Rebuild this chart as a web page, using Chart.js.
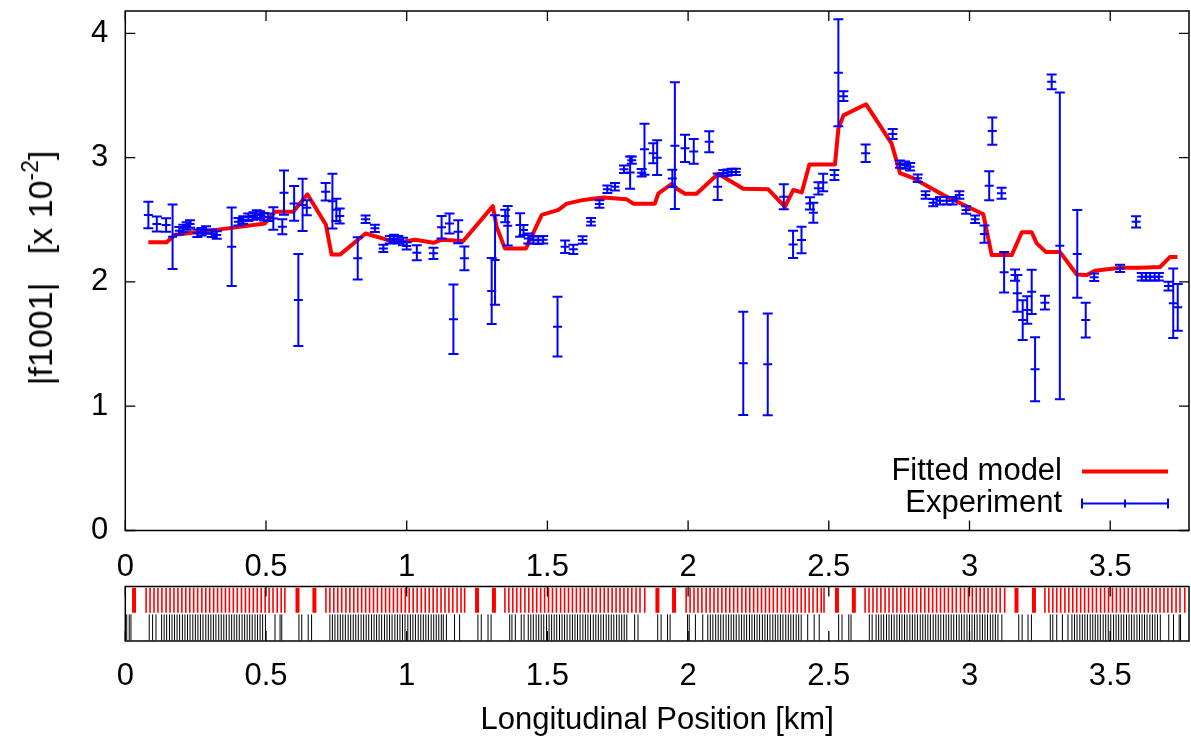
<!DOCTYPE html>
<html><head><meta charset="utf-8">
<script src="https://cdn.jsdelivr.net/npm/chart.js@4.4.1/dist/chart.umd.min.js"></script>
<style>
html,body{margin:0;padding:0;background:#fff;}
body{width:1191px;height:736px;position:relative;overflow:hidden;font-family:"Liberation Sans",Arial,sans-serif;}
#c1{position:absolute;left:0;top:0;}
#c2{position:absolute;left:0;top:580px;}
#ylab{position:absolute;left:40px;top:268px;transform:translate(-50%,-50%) rotate(-90deg);font-size:34px;white-space:pre;color:#000;line-height:1;}
#ylab sup{font-size:23px;line-height:0;position:relative;top:-2px;}
</style></head>
<body>
<canvas id="c1" width="1191" height="580"></canvas>
<canvas id="c2" width="1191" height="156"></canvas>
<div id="ylab">|f1001|   [x 10<sup>-2</sup>]</div>
<script>
// ---------- data ----------
const xTicks = [0, 0.5, 1, 1.5, 2, 2.5, 3, 3.5];
const yTicks = [0, 1, 2, 3, 4];

const modelX = [0.082,0.147,0.177,0.337,0.496,0.532,0.597,0.647,0.713,0.733,0.763,0.854,0.929,0.976,1.030,1.095,1.124,1.201,1.306,1.320,1.349,1.424,1.480,1.539,1.569,1.628,1.699,1.782,1.805,1.882,1.894,1.942,1.960,1.989,2.030,2.107,2.196,2.285,2.344,2.374,2.404,2.431,2.522,2.534,2.552,2.632,2.723,2.753,2.800,2.907,3.049,3.079,3.150,3.186,3.221,3.239,3.272,3.322,3.381,3.416,3.446,3.535,3.606,3.677,3.712,3.739];
const modelY = [2.32,2.32,2.38,2.423,2.47,2.565,2.565,2.705,2.46,2.22,2.22,2.39,2.34,2.32,2.34,2.315,2.34,2.33,2.61,2.44,2.27,2.27,2.54,2.58,2.63,2.66,2.68,2.665,2.63,2.63,2.71,2.79,2.75,2.71,2.71,2.87,2.75,2.745,2.605,2.74,2.72,2.945,2.945,3.235,3.34,3.43,3.115,2.875,2.835,2.70,2.545,2.216,2.216,2.40,2.40,2.31,2.24,2.24,2.06,2.055,2.09,2.115,2.115,2.12,2.20,2.20];

const expX = [0.082,0.112,0.145,0.168,0.192,0.206,0.218,0.230,0.256,0.271,0.287,0.307,0.325,0.378,0.402,0.419,0.437,0.455,0.467,0.479,0.493,0.508,0.526,0.558,0.564,0.600,0.615,0.630,0.645,0.712,0.736,0.750,0.762,0.826,0.854,0.887,0.917,0.940,0.955,0.970,0.987,1.000,1.036,1.095,1.124,1.152,1.166,1.183,1.205,1.302,1.314,1.350,1.359,1.403,1.415,1.432,1.450,1.467,1.485,1.536,1.563,1.592,1.625,1.655,1.685,1.713,1.740,1.772,1.794,1.800,1.835,1.845,1.876,1.890,1.944,1.953,1.989,2.020,2.075,2.105,2.125,2.140,2.155,2.170,2.196,2.283,2.340,2.373,2.403,2.433,2.445,2.463,2.480,2.520,2.534,2.552,2.631,2.727,2.753,2.771,2.789,2.816,2.844,2.871,2.895,2.919,2.940,2.964,2.988,3.020,3.053,3.070,3.081,3.114,3.123,3.162,3.170,3.189,3.205,3.221,3.233,3.268,3.292,3.321,3.383,3.413,3.443,3.535,3.592,3.612,3.627,3.642,3.658,3.673,3.707,3.724,3.740];
const expY = [2.538,2.466,2.458,2.364,2.412,2.431,2.45,2.466,2.391,2.404,2.418,2.391,2.377,2.283,2.484,2.498,2.52,2.53,2.546,2.538,2.525,2.52,2.51,2.444,2.718,2.632,1.854,2.62,2.597,2.726,2.65,2.58,2.53,2.19,2.504,2.431,2.27,2.34,2.35,2.34,2.325,2.29,2.235,2.23,2.44,2.47,1.70,2.404,2.19,1.927,2.176,2.53,2.452,2.458,2.418,2.35,2.34,2.335,2.34,1.64,2.283,2.262,2.337,2.484,2.627,2.745,2.766,2.906,2.88,2.98,2.878,3.067,3.035,3.0,2.833,3.096,3.075,3.05,3.128,2.766,2.875,2.88,2.885,2.885,1.345,1.337,2.685,2.302,2.337,2.632,2.557,2.753,2.8,2.86,3.683,3.495,3.035,3.19,2.948,2.94,2.927,2.834,2.70,2.638,2.654,2.654,2.654,2.70,2.579,2.504,2.385,2.774,3.214,2.713,2.077,2.055,1.908,1.693,1.774,1.921,1.297,1.833,3.61,2.291,2.225,1.693,2.037,2.109,2.484,2.042,2.042,2.042,2.042,2.042,1.967,1.828,1.796];
const expErr = [0.107,0.06,0.055,0.26,0.03,0.03,0.03,0.03,0.03,0.03,0.03,0.03,0.03,0.315,0.03,0.03,0.03,0.03,0.03,0.03,0.03,0.03,0.09,0.06,0.178,0.14,0.37,0.21,0.06,0.07,0.22,0.09,0.06,0.17,0.03,0.03,0.03,0.03,0.03,0.03,0.03,0.03,0.06,0.045,0.09,0.08,0.28,0.093,0.095,0.265,0.36,0.05,0.158,0.095,0.04,0.04,0.03,0.03,0.03,0.24,0.05,0.038,0.03,0.03,0.03,0.03,0.03,0.03,0.13,0.03,0.03,0.205,0.08,0.14,0.07,0.51,0.11,0.1,0.085,0.107,0.025,0.025,0.025,0.025,0.416,0.41,0.1,0.11,0.107,0.05,0.08,0.05,0.07,0.04,0.43,0.04,0.07,0.04,0.03,0.03,0.03,0.03,0.03,0.03,0.03,0.03,0.03,0.03,0.03,0.03,0.07,0.117,0.11,0.044,0.163,0.045,0.148,0.16,0.11,0.178,0.258,0.055,0.06,1.234,0.353,0.14,0.03,0.03,0.045,0.03,0.03,0.03,0.03,0.03,0.035,0.28,0.188];

// lattice strip: element positions [km]
const redThin = [0.074,0.088,0.102,0.116,0.130,0.145,0.159,0.173,0.187,0.201,0.215,0.229,0.243,0.257,0.272,0.286,0.300,0.314,0.328,0.342,0.356,0.370,0.384,0.398,0.413,0.427,0.441,0.455,0.469,0.483,0.497,0.511,0.525,0.540,0.554,0.567,
0.713,0.727,0.741,0.755,0.769,0.784,0.798,0.812,0.826,0.840,0.854,0.868,0.882,0.896,0.911,0.925,0.939,0.953,0.967,0.981,0.995,1.009,1.023,1.037,1.052,1.066,1.080,1.094,1.108,1.122,1.136,1.150,1.164,1.179,1.193,1.206,
1.349,1.363,1.377,1.391,1.405,1.420,1.434,1.448,1.462,1.476,1.490,1.504,1.518,1.532,1.547,1.561,1.575,1.589,1.603,1.617,1.631,1.645,1.659,1.673,1.688,1.702,1.716,1.730,1.744,1.758,1.772,1.786,1.800,1.815,1.829,1.846,
1.993,2.007,2.021,2.035,2.049,2.064,2.078,2.092,2.106,2.120,2.134,2.148,2.162,2.176,2.191,2.205,2.219,2.233,2.247,2.261,2.275,2.289,2.303,2.317,2.332,2.346,2.360,2.374,2.388,2.402,2.416,2.430,2.444,2.459,2.473,2.483,
2.629,2.643,2.657,2.671,2.685,2.700,2.714,2.728,2.742,2.756,2.770,2.784,2.798,2.812,2.827,2.841,2.855,2.869,2.883,2.897,2.911,2.925,2.939,2.953,2.968,2.982,2.996,3.010,3.024,3.038,3.052,3.066,3.080,3.095,3.109,3.125,
3.268,3.282,3.296,3.310,3.324,3.339,3.353,3.367,3.381,3.395,3.409,3.423,3.437,3.451,3.466,3.480,3.494,3.508,3.522,3.536,3.550,3.564,3.578,3.592,3.607,3.621,3.635,3.649,3.663,3.677,3.691,3.705,3.719,3.734,3.748,3.765];
const redThick = [0.031,0.612,0.672,1.250,1.310,1.891,1.950,2.529,2.589,3.167,3.229];
const blackPos = [0.005,0.014,0.020,0.085,0.097,0.109,
0.129,0.138,0.147,0.157,0.166,0.175,0.184,0.193,0.203,0.212,0.221,0.230,0.240,0.249,0.258,0.267,0.276,0.286,0.295,0.304,0.313,0.322,0.332,0.341,0.350,0.359,0.369,0.378,0.387,0.396,0.405,0.415,0.424,0.433,0.442,0.451,0.461,0.470,0.479,0.488,0.498,
0.532,0.550,0.556,0.617,0.627,0.650,0.662,
0.727,0.736,0.745,0.755,0.764,0.773,0.782,0.792,0.801,0.810,0.819,0.828,0.838,0.847,0.856,0.865,0.875,0.884,0.893,0.902,0.911,0.921,0.930,0.939,0.948,0.958,0.967,0.976,0.985,0.994,1.004,1.013,1.022,1.031,1.041,1.050,1.059,1.068,1.077,1.087,1.096,1.105,1.114,1.123,
1.130,1.141,1.170,1.188,1.253,1.265,1.289,1.300,1.366,1.374,1.386,1.407,1.417,
1.432,1.441,1.450,1.460,1.469,1.478,1.487,1.497,1.506,1.515,1.524,1.533,1.543,1.552,1.561,1.570,1.580,1.589,1.598,1.607,1.616,1.626,1.635,1.644,1.653,1.663,1.672,1.681,1.690,1.699,1.709,1.718,1.727,1.736,1.746,1.755,1.764,1.773,1.782,
1.810,1.822,1.892,1.904,1.927,1.936,1.998,2.004,2.026,2.052,
2.070,2.079,2.088,2.098,2.107,2.116,2.125,2.135,2.144,2.153,2.162,2.171,2.181,2.190,2.199,2.208,2.218,2.227,2.236,2.245,2.254,2.264,2.273,2.282,2.291,2.301,2.310,2.319,2.328,2.337,2.347,2.356,2.365,2.374,2.384,2.393,2.402,
2.425,2.448,2.466,2.535,2.547,2.571,2.579,2.644,2.654,2.668,
2.677,2.686,2.695,2.705,2.714,2.723,2.732,2.742,2.751,2.760,2.769,2.778,2.788,2.797,2.806,2.815,2.825,2.834,2.843,2.852,2.861,2.871,2.880,2.889,2.898,2.908,2.917,2.926,2.935,2.944,2.954,2.963,2.972,2.981,2.991,3.000,3.009,3.018,3.027,3.037,3.046,3.055,3.064,3.074,3.083,3.092,3.101,3.115,
3.175,3.187,3.208,3.220,3.287,3.296,3.310,3.330,3.350,
3.364,3.373,3.382,3.392,3.401,3.410,3.419,3.429,3.438,3.447,3.456,3.465,3.475,3.484,3.493,3.502,3.512,3.521,3.530,3.539,3.548,3.558,3.567,3.576,3.585,3.595,3.604,3.613,3.622,3.631,3.641,3.650,3.659,3.668,3.678,
3.708,3.725,3.745,3.750];

const xTitle = 'Longitudinal Position [km]';
const legendModel = 'Fitted model';
const legendExp = 'Experiment';

// ---------- chart ----------
const FONT = "'Liberation Sans', Arial, Helvetica, sans-serif";
Chart.defaults.font.family = FONT;
Chart.defaults.color = '#000';
const RED = '#ff0000', BLUE = '#0000ff';
const fmt = v => String(+(+v).toFixed(2));

const framePlugin = {
  id: 'frame',
  afterDraw(chart, args, opts) {
    const {ctx, chartArea: a, scales} = chart;
    const L = 10;
    ctx.save();
    ctx.strokeStyle = '#000';
    ctx.lineWidth = 1.5;
    ctx.strokeRect(a.left, a.top, a.right - a.left, a.bottom - a.top);
    ctx.lineWidth = 1.3;
    ctx.beginPath();
    scales.x.ticks.forEach(t => {
      const p = scales.x.getPixelForValue(t.value);
      ctx.moveTo(p, a.bottom); ctx.lineTo(p, a.bottom - L);
      ctx.moveTo(p, a.top); ctx.lineTo(p, a.top + L);
    });
    if (opts.yTicks) {
      scales.y.ticks.forEach(t => {
        const p = scales.y.getPixelForValue(t.value);
        ctx.moveTo(a.left, p); ctx.lineTo(a.left + L, p);
        ctx.moveTo(a.right, p); ctx.lineTo(a.right - L, p);
      });
    }
    ctx.stroke();
    ctx.restore();
  }
};

const legendPlugin = {
  id: 'keybox',
  afterDraw(chart) {
    const {ctx, chartArea: a} = chart;
    const tx = a.right - 127, x0 = a.right - 107, x1 = a.right - 21;
    const y1 = a.bottom - 59, y2 = a.bottom - 27;
    ctx.save();
    ctx.font = '31px ' + FONT;
    ctx.fillStyle = '#000';
    ctx.textAlign = 'right';
    ctx.textBaseline = 'middle';
    ctx.fillText(legendModel, tx, y1);
    ctx.fillText(legendExp, tx, y2);
    ctx.strokeStyle = RED; ctx.lineWidth = 4;
    ctx.beginPath(); ctx.moveTo(x0, y1); ctx.lineTo(x1, y1); ctx.stroke();
    ctx.strokeStyle = BLUE; ctx.lineWidth = 2;
    const xm = (x0 + x1) / 2;
    ctx.beginPath();
    ctx.moveTo(x0, y2); ctx.lineTo(x1, y2);
    ctx.moveTo(x0, y2 - 5); ctx.lineTo(x0, y2 + 5);
    ctx.moveTo(x1, y2 - 5); ctx.lineTo(x1, y2 + 5);
    ctx.moveTo(xm, y2 - 4); ctx.lineTo(xm, y2 + 4);
    ctx.stroke();
    ctx.restore();
  }
};

const barPts = [], capPts = [], ctrPts = [];
expX.forEach((x, i) => {
  const y = expY[i], e = expErr[i];
  barPts.push({x, y: y - e}, {x, y: y + e}, {x, y: null});
  capPts.push({x, y: y - e}, {x, y: y + e});
  ctrPts.push({x, y});
});
const modelPts = modelX.map((x, i) => ({x, y: modelY[i]}));

const tickFont = {size: 31, family: FONT};
const noPad = s => { s.paddingLeft = 0; s.paddingRight = 0; s.paddingTop = 0; s.paddingBottom = 0; };
const xTickCfg = (pad) => ({
  stepSize: 0.5, includeBounds: false, autoSkip: false, maxRotation: 0,
  padding: pad, font: tickFont, color: '#000', callback: v => fmt(v)
});

new Chart(document.getElementById('c1'), {
  type: 'scatter',
  data: {datasets: [
    {data: ctrPts, pointStyle: 'line', pointRadius: 4.5, pointBorderWidth: 2, pointBorderColor: BLUE, showLine: false},
    {data: capPts, pointStyle: 'line', pointRadius: 5, pointBorderWidth: 2, pointBorderColor: BLUE, showLine: false},
    {data: barPts, showLine: true, spanGaps: false, borderColor: BLUE, borderWidth: 2, pointRadius: 0},
    {data: modelPts, showLine: true, borderColor: RED, borderWidth: 4, pointRadius: 0, borderJoinStyle: 'round'}
  ]},
  options: {
    responsive: false, animation: false, events: [],
    layout: {autoPadding: false, padding: {top: 11, right: 2, left: 0, bottom: 0}},
    plugins: {legend: {display: false}, tooltip: {enabled: false}, frame: {yTicks: true}},
    scales: {
      x: {type: 'linear', min: 0, max: 3.78,
          afterFit: s => { s.height = 49.5; noPad(s); },
          afterBuildTicks: s => { s.ticks = xTicks.map(v => ({value: v})); },
          grid: {display: false, drawTicks: false}, border: {display: false},
          ticks: xTickCfg(18)},
      y: {type: 'linear', min: 0, max: 4.18,
          afterFit: s => { s.width = 125.3; noPad(s); },
          afterBuildTicks: s => { s.ticks = yTicks.map(v => ({value: v})); },
          grid: {display: false, drawTicks: false}, border: {display: false},
          ticks: {padding: 17, font: tickFont, color: '#000', callback: v => fmt(v)}}
    }
  },
  plugins: [framePlugin, legendPlugin]
});

new Chart(document.getElementById('c2'), {
  type: 'scatter',
  data: {datasets: [
    {data: redThick.map(x => ({x, y: 1.5})), pointStyle: 'line', pointRotation: 90, pointRadius: 12.5, pointBorderWidth: 4, pointBorderColor: RED},
    {data: redThin.map(x => ({x, y: 1.5})), pointStyle: 'line', pointRotation: 90, pointRadius: 12.5, pointBorderWidth: 1.6, pointBorderColor: RED},
    {data: blackPos.map(x => ({x, y: 0.5})), pointStyle: 'line', pointRotation: 90, pointRadius: 13, pointBorderWidth: 1, pointBorderColor: '#000'}
  ]},
  options: {
    responsive: false, animation: false, events: [],
    layout: {autoPadding: false, padding: {top: 6.5, right: 2, left: 125.3, bottom: 0}},
    plugins: {legend: {display: false}, tooltip: {enabled: false}, frame: {yTicks: false}},
    scales: {
      x: {type: 'linear', min: 0, max: 3.78,
          afterFit: s => { s.height = 95; noPad(s); },
          afterBuildTicks: s => { s.ticks = xTicks.map(v => ({value: v})); },
          grid: {display: false, drawTicks: false}, border: {display: false},
          ticks: xTickCfg(17),
          title: {display: true, text: xTitle, color: '#000', font: {size: 31, family: FONT, lineHeight: 1.0}, padding: {top: 0, bottom: 0}}},
      y: {type: 'linear', min: 0, max: 2, display: false}
    }
  },
  plugins: [framePlugin]
});
</script>
</body></html>
